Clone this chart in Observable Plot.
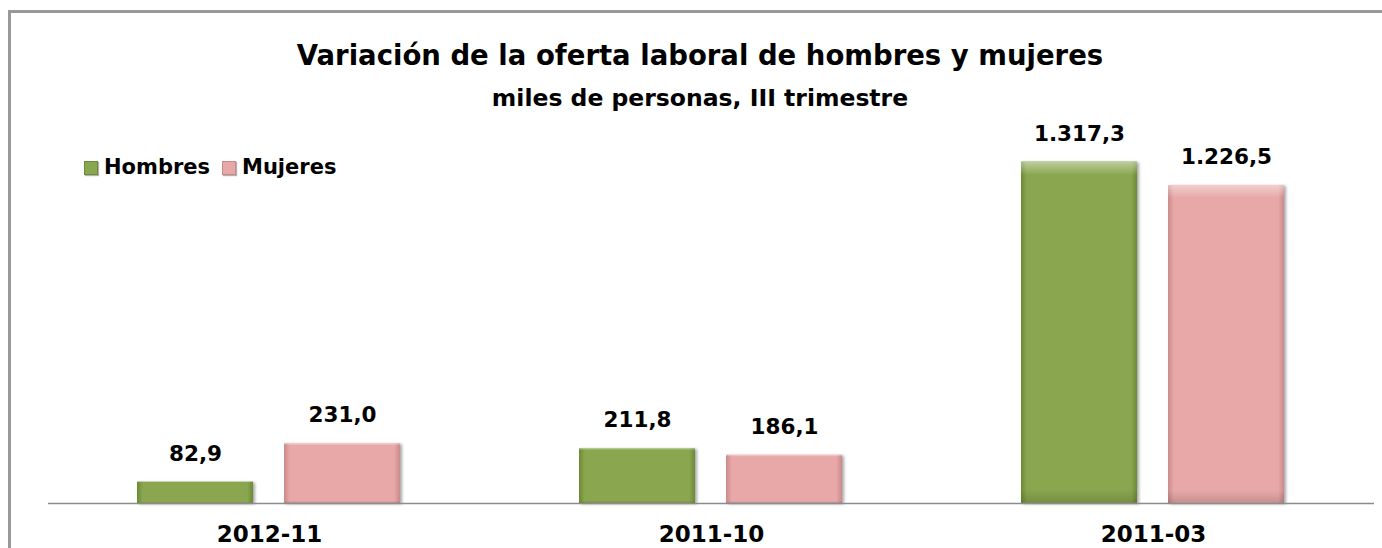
<!DOCTYPE html>
<html><head><meta charset="utf-8">
<script src="https://cdn.jsdelivr.net/npm/d3@7"></script>
<script src="https://cdn.jsdelivr.net/npm/@observablehq/plot@0.6"></script>
<style>
html,body{margin:0;padding:0;background:#fff;}
#wrap{position:relative;width:1382px;height:548px;overflow:hidden;font-family:"DejaVu Sans",sans-serif;}
#frame{position:absolute;left:8px;top:10px;width:1400px;height:600px;border-left:3px solid #999;border-top:3px solid #999;}
#title{position:absolute;left:0;width:1400px;top:42px;text-align:center;font-weight:bold;font-size:27.5px;line-height:1;color:#000;}
#subtitle{position:absolute;left:0;width:1400px;top:87px;text-align:center;font-weight:bold;font-size:23.5px;line-height:1;color:#000;}
#legend{position:absolute;left:84px;top:157px;font-weight:bold;font-size:21px;line-height:1;display:flex;align-items:center;}
#legend .sw{display:inline-block;width:14px;height:14px;margin-right:6px;box-sizing:border-box;box-shadow:1px 1px 1px rgba(0,0,0,0.3);}
#legend .it{display:flex;align-items:center;margin-right:12px;}
#chart{position:absolute;left:0;top:0;}
</style></head>
<body><div id="wrap">
<div id="frame"></div>
<div id="chart"></div>
<div id="title">Variación de la oferta laboral de hombres y mujeres</div>
<div id="subtitle">miles de personas, III trimestre</div>
<div id="legend"></div>
</div>
<script>
const categories = ["2012-11", "2011-10", "2011-03"];
const seriesNames = ["Hombres", "Mujeres"];
const hombres = [82.9, 211.8, 1317.3];
const mujeres = [231.0, 186.1, 1226.5];
const seriesColors = ["#8AA64F", "#E8A8A8"];
const edgeColors = ["#6B8A35", "#C98A8A"];

const data = [];
categories.forEach((c, i) => {
  data.push({cat: c, series: seriesNames[0], value: hombres[i]});
  data.push({cat: c, series: seriesNames[1], value: mujeres[i]});
});

const loc = d3.formatLocale({decimal: ",", thousands: ".", grouping: [3], currency: ["", ""]});
const fmt = loc.format(",.1f");

const chart = Plot.plot({
  width: 1382,
  height: 548,
  marginLeft: 48,
  marginRight: 8,
  marginTop: 140,
  marginBottom: 45,
  style: {fontFamily: "'DejaVu Sans', sans-serif", background: "transparent"},
  fx: {domain: categories, padding: 0, label: null, axis: "bottom", tickSize: 0, tickPadding: 22, fontSize: 23},
  x: {domain: seriesNames, paddingInner: 0.2095, paddingOuter: 0.598, axis: null},
  y: {domain: [0, 1400], axis: null},
  color: {domain: seriesNames, range: ["url(#gG)", "url(#gP)"]},
  marks: [
    Plot.barY(data, {fx: "cat", x: "series", y: "value", fill: "series", className: "bars"}),
    Plot.barY(data, {fx: "cat", x: "series", y: "value", fill: "url(#gV)"}),
    Plot.ruleY([0], {stroke: "#8c8c8c", strokeWidth: 1.5}),
    Plot.text(data, {fx: "cat", x: "series", y: "value", text: d => fmt(d.value), dy: -28, fontSize: 21.5, fontWeight: "bold", fill: "#000"})
  ]
});

const svg = d3.select(chart);
svg.style("overflow", "visible");
svg.selectAll("[aria-label='fx-axis tick label']").style("font-weight", "bold").style("font-size", "23px");
const defs = svg.insert("defs", ":first-child");
function hGrad(id, base, edge) {
  const g = defs.append("linearGradient").attr("id", id).attr("x1", 0).attr("x2", 1).attr("y1", 0).attr("y2", 0);
  g.append("stop").attr("offset", "0%").attr("stop-color", edge);
  g.append("stop").attr("offset", "5%").attr("stop-color", base);
  g.append("stop").attr("offset", "95%").attr("stop-color", base);
  g.append("stop").attr("offset", "100%").attr("stop-color", edge);
}
hGrad("gG", seriesColors[0], edgeColors[0]);
hGrad("gP", seriesColors[1], edgeColors[1]);
const v = defs.append("linearGradient").attr("id", "gV").attr("x1", 0).attr("x2", 0).attr("y1", 0).attr("y2", 1);
v.append("stop").attr("offset", "0%").attr("stop-color", "#fff").attr("stop-opacity", 0.45);
v.append("stop").attr("offset", "4%").attr("stop-color", "#fff").attr("stop-opacity", 0);
v.append("stop").attr("offset", "96%").attr("stop-color", "#000").attr("stop-opacity", 0);
v.append("stop").attr("offset", "100%").attr("stop-color", "#000").attr("stop-opacity", 0.15);
svg.selectAll(".bars").style("filter", "drop-shadow(2px 1px 1.5px rgba(0,0,0,0.35))");
document.getElementById("chart").appendChild(chart);

const legend = d3.select("#legend");
seriesNames.forEach((s, i) => {
  const it = legend.append("div").attr("class", "it");
  it.append("span").attr("class", "sw").style("background", seriesColors[i]).style("border", "1px solid " + edgeColors[i]);
  it.append("span").text(s);
});
</script>
</body></html>
